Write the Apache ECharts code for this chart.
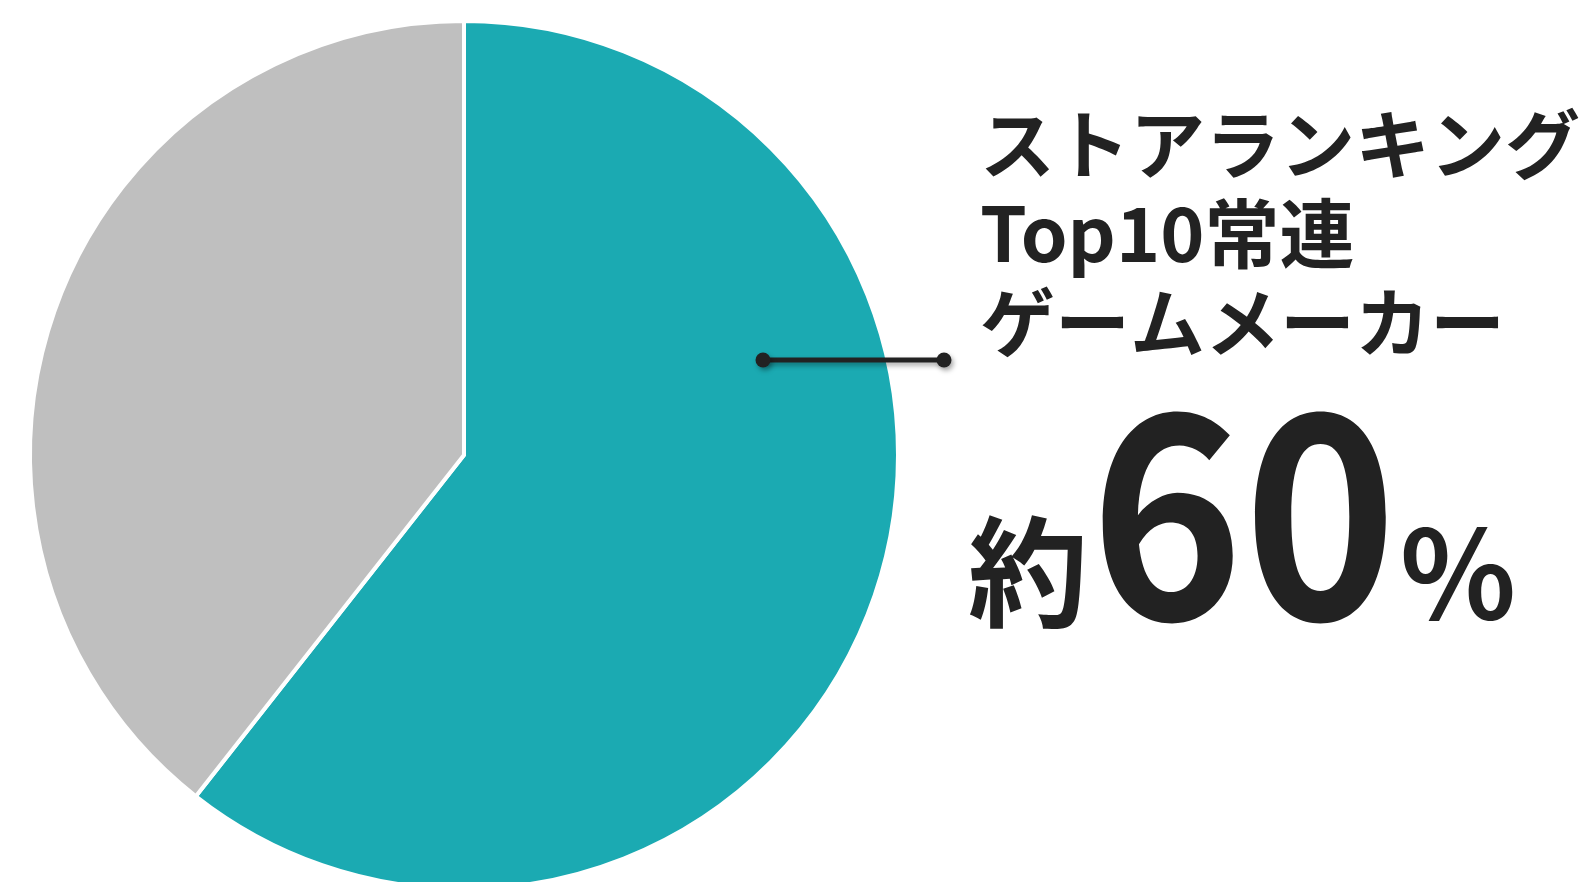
<!DOCTYPE html>
<html>
<head>
<meta charset="utf-8">
<title>ストアランキング Top10常連ゲームメーカー</title>
<script src="https://cdn.jsdelivr.net/npm/echarts@6/dist/echarts.min.js"></script>
<style>
    html, body { margin: 0; padding: 0; background: #ffffff; }
    #pie { width: 1586px; height: 882px; }
</style>
</head>
<body>
<div id="pie"></div>
<script>
// data
var names = ['ストアランキングTop10常連ゲームメーカー', 'その他'];
var shares = [60.6, 39.4];
var colors = ['#1BAAB2', '#BFBFBF'];

// annotation text
var titleLines = ['ストアランキング', 'Top10常連', 'ゲームメーカー'];
var prefix = '約';
var bigNumber = '60';
var unit = '％';

var font = '"Noto Sans CJK JP", "Noto Sans CJK SC", sans-serif';

var myChart = echarts.init(document.getElementById('pie'));

var pieData = [];
for (var i = 0; i < names.length; i++) {
    pieData.push({
        name: names[i],
        value: shares[i],
        itemStyle: { color: colors[i] }
    });
}

var texts = [];
for (var j = 0; j < titleLines.length; j++) {
    texts.push({
        type: 'text',
        z: 10,
        x: 980,
        y: 144 + j * 89,
        style: {
            text: titleLines[j],
            fill: '#222222',
            font: 'bold 75px ' + font,
            textAlign: 'left',
            textVerticalAlign: 'middle'
        }
    });
}

var shadow = { shadowBlur: 5, shadowOffsetX: 2, shadowOffsetY: 3, shadowColor: 'rgba(0,0,0,0.35)' };

var option = {
    backgroundColor: '#ffffff',
    animation: false,
    series: [{
        type: 'pie',
        z: 2,
        center: [464, 455],
        radius: [0, 434],
        startAngle: 90,
        clockwise: true,
        label: { show: false },
        labelLine: { show: false },
        emphasis: { disabled: true },
        itemStyle: { borderColor: '#ffffff', borderWidth: 4 },
        data: pieData
    }],
    graphic: texts.concat([
        {
            type: 'line',
            z: 10,
            shape: { x1: 763, y1: 360, x2: 944, y2: 360 },
            style: echarts.util.extend({ stroke: '#222222', lineWidth: 5 }, shadow)
        },
        {
            type: 'circle',
            z: 11,
            shape: { cx: 763, cy: 360, r: 7.5 },
            style: echarts.util.extend({ fill: '#222222' }, shadow)
        },
        {
            type: 'circle',
            z: 11,
            shape: { cx: 944, cy: 360, r: 7.5 },
            style: echarts.util.extend({ fill: '#222222' }, shadow)
        },
        {
            type: 'text',
            z: 10,
            x: 968,
            y: 572,
            style: { text: prefix, fill: '#222222', font: 'bold 120px ' + font, textAlign: 'left', textVerticalAlign: 'middle' }
        },
        {
            type: 'text',
            z: 10,
            x: 1090,
            y: 512,
            scaleX: 0.92,
            style: { text: bigNumber, fill: '#222222', font: 'bold 283px ' + font, textAlign: 'left', textVerticalAlign: 'middle' }
        },
        {
            type: 'text',
            z: 10,
            x: 1398,
            y: 574,
            style: { text: unit, fill: '#222222', font: 'bold 120px ' + font, textAlign: 'left', textVerticalAlign: 'middle' }
        }
    ])
};

myChart.setOption(option);
</script>
</body>
</html>
